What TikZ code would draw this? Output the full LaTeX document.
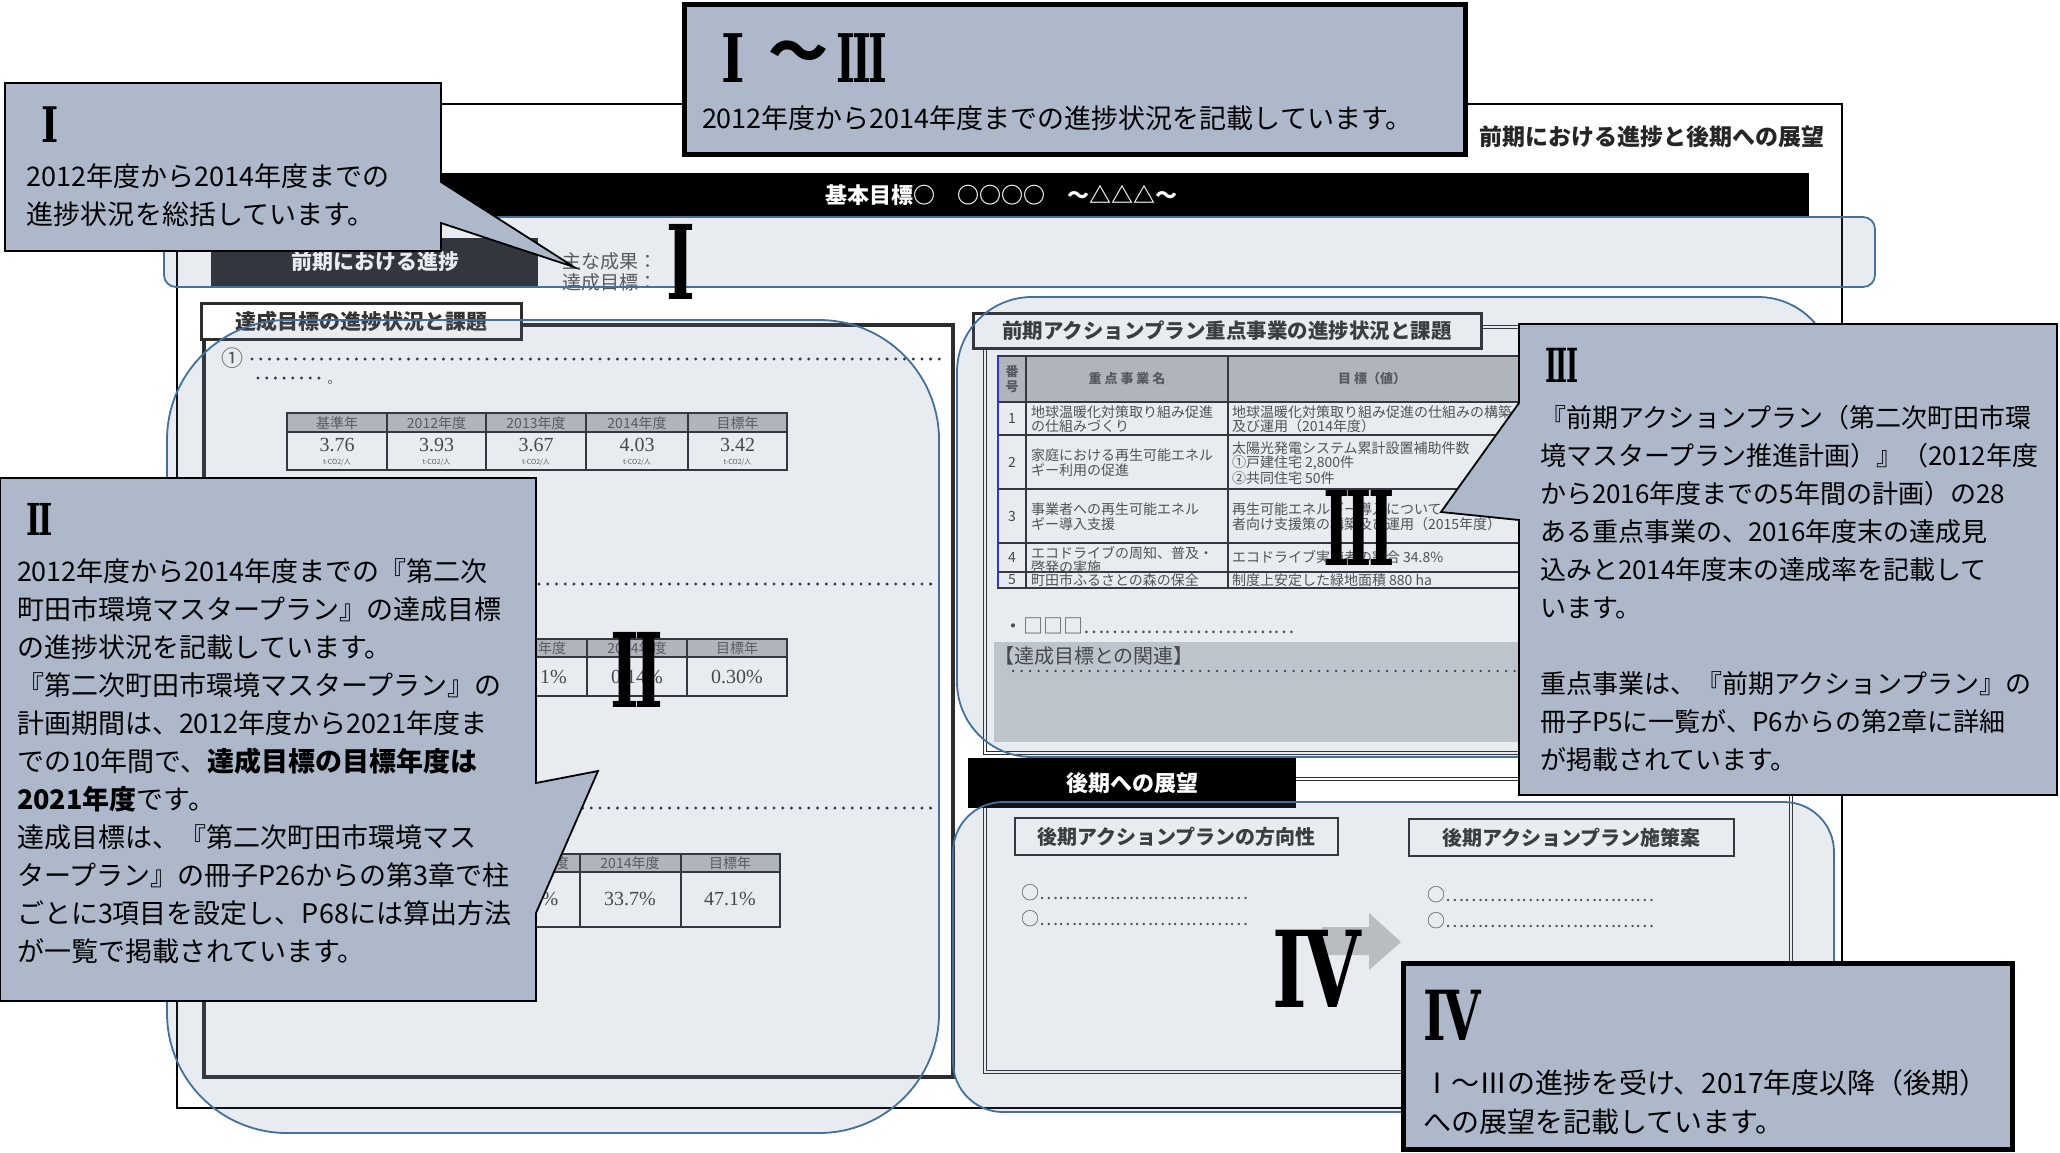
\documentclass[tikz,border=0pt]{standalone}
\usepackage{fontspec}
\usepackage{graphicx}
\setmainfont{Noto Sans CJK JP}
\newfontfamily\rnfont{DejaVu Serif}
\newfontfamily\numfont{Liberation Serif}
\newcommand{\fsz}[2]{\fontsize{#1}{#2}\selectfont}
\definecolor{callout}{RGB}{173,185,203}
\definecolor{hlfill}{RGB}{102,122,155}
\definecolor{hlline}{RGB}{65,113,156}
\definecolor{darkbox}{RGB}{42,44,48}
\definecolor{thgray}{RGB}{190,192,196}
\definecolor{txtgray}{RGB}{85,85,85}
\definecolor{framec}{RGB}{45,45,48}
\definecolor{relgray}{RGB}{206,209,213}
\definecolor{dotc}{RGB}{40,50,70}
\definecolor{tblue}{RGB}{40,40,220}
\begin{document}
\begin{tikzpicture}[x=1pt,y=-1pt,
  every node/.style={inner sep=0pt, outer sep=0pt},
  ctext/.style={align=left, anchor=north west, font=\fsz{27}{38}, text=black},
  rn/.style={font=\rnfont\bfseries, text=black},
  hbox/.style={draw=framec, line width=3pt, fill=white, font=\fsz{21}{21}\bfseries, text=black!80},
  dotline/.style={line width=3.3pt, line cap=round, dash pattern=on 0pt off 8.7pt, color=dotc},
  thtext/.style={font=\fsz{14}{14}, text=txtgray},
  tvtext/.style={font=\numfont\fsz{20}{20}, text=black!75},
  tutext/.style={font=\fsz{7}{7}, text=txtgray},
  rtext/.style={anchor=west, align=left, font=\fsz{14}{14.5}, text=black!70},
  tline/.style={draw=framec, line width=1.5pt},
  hl/.style={fill=hlfill, fill opacity=0.15, draw=hlline, line width=1.8pt},
  callbox/.style={fill=callout, draw=black, line width=1.8pt, line join=miter}
]
\useasboundingbox (0,0) rectangle (2060,1152);
\fill[white] (0,0) rectangle (2060,1152);

% ---------- page ----------
\draw[line width=1.5pt] (177,104) rectangle (1842,1108);
\node[font=\fsz{23}{23}\bfseries, text=black!85] (title) at (1652,137) {前期における進捗と後期への展望};
\fill[black] (205,173) rectangle (1809,216);
\node[font=\fsz{22}{22}\bfseries, text=white] (bar) at (1001,195) {基本目標○　○○○○　～△△△～};

% section I line
\fill[darkbox] (211,238) rectangle (538,286);
\node[font=\fsz{21}{21}\bfseries, text=white] (zenki) at (375,262) {前期における進捗};
\node[anchor=west, align=left, font=\fsz{19}{21}, text=txtgray] (seika) at (562,272) {主な成果：\\達成目標：};

% ---------- left panel ----------
\draw[framec, line width=4pt] (204,325) rectangle (953,1077);
\node[hbox, minimum width=320pt, minimum height=36pt] (lhead) at (361,321) {達成目標の進捗状況と課題};
\node[font=\fsz{22}{22}, text=black!70] (c1) at (232,358) {①};
\draw[dotline] (252,359) -- (940,359);
\draw[dotline] (258,378) -- (326,378);
\node[font=\fsz{13}{13}, text=black!70] (maru) at (334,382) {。};

% table 1
\fill[thgray] (287,413) rectangle (787,432);
\draw[tline] (287,413) rectangle (787,470);
\draw[tline] (287,432) -- (787,432);
\foreach \xx in {387,486,586,688} {\draw[tline] (\xx,413) -- (\xx,470);}
\foreach \cx/\hd/\vl [count=\i] in {337/基準年/3.76, 436.5/2012年度/3.93, 536/2013年度/3.67, 637/2014年度/4.03, 737.5/目標年/3.42}{
  \node[thtext] (ta\i) at (\cx,423) {\hd};
  \node[tvtext] (tb\i) at (\cx,445) {\vl};
  \node[tutext] (tc\i) at (\cx,462) {t-CO2/人};
}

% dotted 2 and table 2
\draw[dotline] (252,584) -- (938,584);
\fill[thgray] (486,639) rectangle (787,657);
\draw[tline] (486,639) rectangle (787,696);
\draw[tline] (486,657) -- (787,657);
\foreach \xx in {587,687} {\draw[tline] (\xx,639) -- (\xx,696);}
\node[thtext, anchor=west] (tb2h1) at (538,648) {年度};
\node[thtext] (tb2h2) at (637,648) {2014年度};
\node[thtext] (tb2h3) at (737,648) {目標年};
\node[tvtext, anchor=west] (tb2v1) at (540,677) {1\%};
\node[tvtext] (tb2v2) at (637,677) {0.14\%};
\node[tvtext] (tb2v3) at (737,677) {0.30\%};

% dotted 3 and table 3
\draw[dotline] (252,808) -- (938,808);
\fill[thgray] (480,854) rectangle (780,872);
\draw[tline] (480,854) rectangle (780,927);
\draw[tline] (480,872) -- (780,872);
\foreach \xx in {580,681} {\draw[tline] (\xx,854) -- (\xx,927);}
\node[thtext] (tb3h1) at (562,863) {度};
\node[thtext] (tb3h2) at (630,863) {2014年度};
\node[thtext] (tb3h3) at (730,863) {目標年};
\node[tvtext] (tb3v1) at (550,899) {\%};
\node[tvtext] (tb3v2) at (630,899) {33.7\%};
\node[tvtext] (tb3v3) at (730,899) {47.1\%};

% ---------- right panel ----------
\draw[framec, double=white, double distance=1.5pt, line width=1.2pt] (985,327) rectangle (1800,753);
\node[hbox, minimum width=508pt, minimum height=35pt, font=\fsz{20.5}{20.5}\bfseries] (rhead) at (1227,331) {前期アクションプラン重点事業の進捗状況と課題};

\fill[thgray] (998,356) rectangle (1560,402);
\draw[tline, line width=1.2pt] (998,356) rectangle (1560,588);
\foreach \yy in {402,435,489,543,572} {\draw[tline, line width=1.2pt] (998,\yy) -- (1560,\yy);}
\foreach \xx in {1026,1228} {\draw[tline, line width=1.2pt] (\xx,356) -- (\xx,588);}
\draw[tblue, line width=2.5pt] (998,356) -- (998,588);
\node[align=center, font=\fsz{13}{15}\bfseries, text=txtgray] (rh1) at (1012,379) {番\\号};
\node[font=\fsz{13}{13}\bfseries, text=txtgray] (rh2) at (1127,379) {重 点 事 業 名};
\node[font=\fsz{13}{13}\bfseries, text=txtgray] (rh3) at (1372,379) {目 標（値）};
\foreach \yy/\nn [count=\i] in {418.5/1,462/2,516/3,557.5/4,580/5}{
  \node[font=\fsz{14}{14}, text=black!75] (rn\i) at (1012,\yy) {\nn};
}
\node[rtext] (r1a) at (1031,419) {地球温暖化対策取り組み促進\\の仕組みづくり};
\node[rtext] (r1b) at (1232,419) {地球温暖化対策取り組み促進の仕組みの構築\\及び運用（2014年度）};
\node[rtext] (r2a) at (1031,462.5) {家庭における再生可能エネル\\ギー利用の促進};
\node[rtext] (r2b) at (1232,463) {太陽光発電システム累計設置補助件数\\①戸建住宅 2,800件\\②共同住宅 50件};
\node[rtext] (r3a) at (1031,516.5) {事業者への再生可能エネル\\ギー導入支援};
\node[rtext] (r3b) at (1232,516.5) {再生可能エネルギー導入について\\者向け支援策の構築及び運用（2015年度）};
\node[rtext] (r4a) at (1031,560) {エコドライブの周知、普及・\\啓発の実施};
\node[rtext] (r4b) at (1232,557.5) {エコドライブ実施者の割合 34.8\%};
\node[rtext] (r5a) at (1031,580) {町田市ふるさとの森の保全};
\node[rtext] (r5b) at (1232,580) {制度上安定した緑地面積 880 ha};

\node[anchor=west, font=\fsz{20}{20}, text=black!70] (sq) at (1003,626) {・□□□…………………………};
\fill[relgray] (994,642) rectangle (1560,742);
\node[anchor=west, font=\fsz{20}{20}, text=black!75] (rel) at (994,656) {【達成目標との関連】};
\draw[dotline, line width=2.5pt, dash pattern=on 0pt off 8.5pt] (1013,671) -- (1519,671);

% ---------- IV panel ----------
\draw[framec, double=white, double distance=1.5pt, line width=1.2pt] (985,779) rectangle (1791,1072);
\node[fill=black, minimum width=328pt, minimum height=50pt, font=\fsz{22}{22}\bfseries, text=white] (kouki) at (1132,783) {後期への展望};
\node[hbox, line width=2.5pt, minimum width=323pt, minimum height=37pt, font=\fsz{20}{20}\bfseries] (hoko) at (1176.5,836.5) {後期アクションプランの方向性};
\node[hbox, line width=2.5pt, minimum width=325pt, minimum height=37pt, font=\fsz{20}{20}\bfseries] (shisaku) at (1571.5,837.5) {後期アクションプラン施策案};
\node[anchor=west, align=left, font=\fsz{18}{26}, text=black!70] (lead1) at (1021,906) {○……………………………\\○……………………………};
\node[anchor=west, align=left, font=\fsz{18}{26}, text=black!70] (lead2) at (1427,908) {○……………………………\\○……………………………};
\fill[gray!50, opacity=0.85] (1322,927) -- (1369,927) -- (1369,913) -- (1401,942) -- (1369,970) -- (1369,955) -- (1322,955) -- cycle;

% ---------- highlights ----------
\draw[hl, rounded corners=12pt] (164,217) rectangle (1875,287);
\draw[hl, rounded corners=120pt] (167,320) rectangle (939,1133);
\draw[hl, rounded corners=75pt] (957,297) rectangle (1833,757);
\draw[hl, rounded corners=50pt] (953,802) rectangle (1834,1112);

% ---------- big numerals ----------
\node[rn] (bigI) at (681,262) {\scalebox{0.6}[1]{\fsz{103}{103}I}};
\node[rn] (bigII) at (637,670) {\scalebox{0.6}[1]{\fsz{103}{103}I\kern-0.07em I}};
\node[rn] (bigIII) at (1359,528) {\scalebox{0.55}[1]{\fsz{103}{103}I\kern-0.07em I\kern-0.07em I}};
\node[rn] (bigIV) at (1317,969) {\scalebox{0.7}[1]{\fsz{106}{106}I\kern-0.05em V}};

% ---------- callouts ----------
\draw[callbox] (5,83) -- (441,83) -- (441,182) -- (574,267) -- (441,223) -- (441,251) -- (5,251) -- cycle;
\node[rn] (hI) at (50,125) {\scalebox{0.75}[1]{\fsz{49}{49}I}};
\node[ctext] (ctI) at (27,164) {2012年度から2014年度までの\\進捗状況を総括しています。};

\draw[callbox, line width=5pt] (684,4) rectangle (1465,154);
\node[rn] (hI3a) at (733,58) {\scalebox{0.75}[1]{\fsz{67}{67}I}};
\node[font=\fsz{60}{60}\bfseries] (hI3b) at (798,57) {～};
\node[rn] (hI3c) at (862,58) {\scalebox{0.6}[1]{\fsz{67}{67}I\kern-0.07em I\kern-0.07em I}};
\node[font=\fsz{27}{27}, anchor=base west] (ctI3) at (702,128) {2012年度から2014年度までの進捗状況を記載しています。};

\draw[callbox] (0,478) -- (536,478) -- (536,783) -- (598,771) -- (536,913) -- (536,1001) -- (0,1001) -- cycle;
\node[rn] (hII) at (40,519) {\scalebox{0.7}[1]{\fsz{44}{44}I\kern-0.07em I}};
\node[ctext] (ctII) at (17,559) {2012年度から2014年度までの『第二次\\町田市環境マスタープラン』の達成目標\\の進捗状況を記載しています。\\『第二次町田市環境マスタープラン』の\\計画期間は、2012年度から2021年度ま\\での10年間で、{\bfseries 達成目標の目標年度は}\\{\bfseries 2021年度}です。\\達成目標は、『第二次町田市環境マス\\タープラン』の冊子P26からの第3章で柱\\ごとに3項目を設定し、P68には算出方法\\が一覧で掲載されています。};

\draw[callbox] (1519,324) -- (2057,324) -- (2057,795) -- (1519,795) -- (1519,520) -- (1441,512) -- (1519,403) -- cycle;
\node[rn] (hIII) at (1562,365) {\scalebox{0.55}[1]{\fsz{47}{47}I\kern-0.07em I\kern-0.07em I}};
\node[ctext, font=\fsz{26}{38}] (ctIII) at (1540,405) {『前期アクションプラン（第二次町田市環\\境マスタープラン推進計画）』（2012年度\\から2016年度までの5年間の計画）の28\\ある重点事業の、2016年度末の達成見\\込みと2014年度末の達成率を記載して\\います。\\[38pt]重点事業は、『前期アクションプラン』の\\冊子P5に一覧が、P6からの第2章に詳細\\が掲載されています。};

\draw[callbox, line width=5pt] (1403,963) rectangle (2012,1149);
\node[rn] (hIV) at (1452,1015) {\scalebox{0.7}[1]{\fsz{69}{69}I\kern-0.05em V}};
\node[ctext, font=\fsz{28}{39}] (ctIV) at (1423,1070) {Ⅰ～Ⅲの進捗を受け、2017年度以降（後期）\\への展望を記載しています。};
\end{tikzpicture}
\end{document}
